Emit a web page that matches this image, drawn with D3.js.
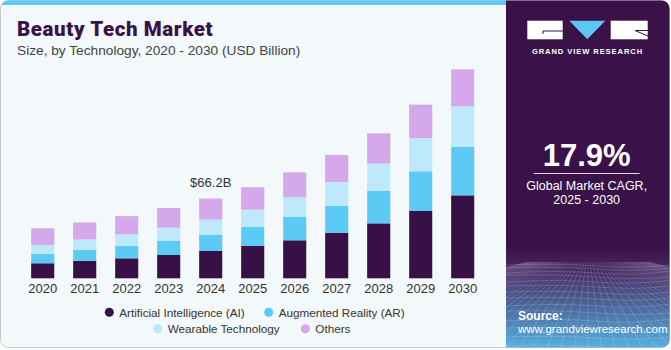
<!DOCTYPE html>
<html><head><meta charset="utf-8">
<script src="https://cdn.jsdelivr.net/npm/d3@7"></script>
<style>html,body{margin:0;padding:0;background:#fff;}svg{display:block;}</style>
</head><body>
<svg id="c" width="671" height="350"></svg>
<script>
const years = ["2020","2021","2022","2023","2024","2025","2026","2027","2028","2029","2030"];
const seriesNames = ["Artificial Intelligence (AI)","Augmented Reality (AR)","Wearable Technology","Others"];
const aiValues = [12.5,14.6,16.6,19.4,22.7,26.9,31.6,37.9,45.7,56.0,69.0];
const arValues = [7.7,9.1,10.2,11.9,13.6,16.1,19.4,22.5,26.9,33.0,40.2];
const wearableValues = [7.5,8.6,9.7,10.8,12.5,14.1,16.6,19.7,22.7,27.7,33.8];
const othersValues = [13.9,14.1,15.2,16.4,17.5,18.6,20.5,22.5,25.3,27.7,30.8];
const colors = ["#371146","#5bcbf5","#bde9fa","#d4a8eb"];
const annotation = {year:"2024", text:"$66.2B"};
const cagrText = "17.9%";
const cagrLabel = ["Global Market CAGR,","2025 - 2030"];

const svg = d3.select("#c");
const W = 671, H = 350, panelX = 506;
const defs = svg.append("defs");
const g1 = defs.append("linearGradient").attr("id","pg").attr("x1",0).attr("y1",0).attr("x2",0).attr("y2",1);
g1.append("stop").attr("offset","0").attr("stop-color","#3a1149");
g1.append("stop").attr("offset","0.70").attr("stop-color","#3a1149");
g1.append("stop").attr("offset","0.77").attr("stop-color","#44285f");
g1.append("stop").attr("offset","1").attr("stop-color","#58b3e4");
defs.append("clipPath").attr("id","cardclip").append("rect")
  .attr("x",0.5).attr("y",0.5).attr("width",669).attr("height",347).attr("rx",8);
defs.append("clipPath").attr("id","gridclip").append("rect")
  .attr("x",panelX).attr("y",262).attr("width",W-panelX).attr("height",90);

// card
svg.append("rect").attr("x",0.5).attr("y",0.5).attr("width",669).attr("height",347).attr("rx",8)
  .attr("fill","#f3f8fb").attr("stroke","#c9c9c9");
const card = svg.append("g").attr("clip-path","url(#cardclip)");
card.append("rect").attr("x",0).attr("y",0).attr("width",panelX).attr("height",5).attr("fill","#5bc8f2");
card.append("rect").attr("x",panelX).attr("y",0).attr("width",W-panelX).attr("height",H).attr("fill","url(#pg)");

// grid decoration
const grid = card.append("g").attr("clip-path","url(#gridclip)").attr("stroke","#ffffff").attr("stroke-opacity",0.22).attr("stroke-width",0.7).attr("fill","none");
const vpX = 588;
d3.range(-30, 31).forEach(i => {
  const bx = vpX + i*14;
  grid.append("line").attr("x1",vpX + i*2).attr("y1",262).attr("x2",bx).attr("y2",350);
});
[265,268,272,276,281,286,292,298,305,312,320,328,337,346].forEach(y => {
  const wob = (y%3)-1;
  grid.append("path").attr("d",`M${panelX},${y+wob} Q${panelX+50},${y-2} ${panelX+90},${y+1} T${W},${y-wob}`);
});

// title
svg.append("text").attr("x",17).attr("y",36).text("Beauty Tech Market")
  .attr("font-family","Roboto, 'Liberation Sans', sans-serif").attr("font-weight",900)
  .attr("font-size",20.5).attr("letter-spacing",0.6).attr("fill","#3a1149");
svg.append("text").attr("x",17).attr("y",55).text("Size, by Technology, 2020 - 2030 (USD Billion)")
  .attr("font-family","'Liberation Sans', Arial, sans-serif").attr("font-size",13.7).attr("fill","#444");

// scales
const x = d3.scaleBand().domain(years).range([21.7,483.7]).paddingInner(0.45).paddingOuter(0.225);
const y = d3.scaleLinear().domain([0,200]).range([278.3, 278.3-1.2024*200]);

const table = years.map((yr,i)=>({year:yr, ai:aiValues[i], ar:arValues[i], wt:wearableValues[i], ot:othersValues[i]}));
const keys = ["ai","ar","wt","ot"];
const stack = d3.stack().keys(keys)(table);

svg.append("g").selectAll("g").data(stack).join("g").attr("fill",(d,i)=>colors[i])
  .selectAll("rect").data(d=>d).join("rect")
  .attr("x",d=>x(d.data.year)).attr("width",x.bandwidth())
  .attr("y",d=>y(d[1])).attr("height",d=>y(d[0])-y(d[1]));

// x axis
const xa = svg.append("g").attr("transform",`translate(0,${278.3})`)
  .call(d3.axisBottom(x).tickSize(0).tickPadding(5));
xa.select(".domain").remove();
xa.selectAll("text").attr("font-family","'Liberation Sans', Arial, sans-serif").attr("font-size",13).attr("fill","#333");

// annotation
const tot = table.find(d=>d.year===annotation.year);
svg.append("text").attr("x",x(annotation.year)+x.bandwidth()/2).attr("y",y(tot.ai+tot.ar+tot.wt+tot.ot)-11.5)
  .attr("text-anchor","middle").text(annotation.text)
  .attr("font-family","'Liberation Sans', Arial, sans-serif").attr("font-size",13).attr("fill","#333");

// legend
const legendPos = [[109.3,312.3],[268.7,312.3],[157.7,328.7],[305.3,328.7]];
const lg = svg.append("g");
seriesNames.forEach((n,i)=>{
  lg.append("circle").attr("cx",legendPos[i][0]).attr("cy",legendPos[i][1]).attr("r",4.5).attr("fill",colors[i]);
  lg.append("text").attr("x",legendPos[i][0]+10).attr("y",legendPos[i][1]+4.3).text(n)
    .attr("font-family","'Liberation Sans', Arial, sans-serif").attr("font-size",11.7).attr("fill","#333");
});

// logo
const lo = svg.append("g");
lo.append("rect").attr("x",527.3).attr("y",20.7).attr("width",35.4).attr("height",18.6).attr("fill","#fff");
lo.append("path").attr("d","M543,31 H563 M543,31 V34").attr("stroke","#3a1149").attr("stroke-width",1);
lo.append("path").attr("d","M569.3,20.7 L605.3,20.7 L587.3,39.3 Z").attr("fill","#5bc8f2");
lo.append("rect").attr("x",610.7).attr("y",20.7).attr("width",37).attr("height",18.6).attr("fill","#fff");
lo.append("path").attr("d","M635,30.5 H648 M635,30.5 L648,36").attr("stroke","#3a1149").attr("stroke-width",1);
lo.append("text").attr("x",587.5).attr("y",54).attr("text-anchor","middle").text("GRAND VIEW RESEARCH")
  .attr("font-family","'Liberation Sans', Arial, sans-serif").attr("font-weight","bold").attr("font-size",7.6)
  .attr("letter-spacing",0.9).attr("fill","#fff");

// CAGR
svg.append("text").attr("x",586.7).attr("y",165.7).attr("text-anchor","middle").text(cagrText)
  .attr("font-family","'Liberation Sans', Arial, sans-serif").attr("font-weight","bold").attr("font-size",31).attr("fill","#fff");
svg.append("line").attr("x1",533.7).attr("x2",639.7).attr("y1",173.5).attr("y2",173.5).attr("stroke","#ddd").attr("stroke-width",1);
cagrLabel.forEach((t,i)=>{
  svg.append("text").attr("x",586.7).attr("y",190+i*14).attr("text-anchor","middle").text(t)
    .attr("font-family","'Liberation Sans', Arial, sans-serif").attr("font-size",12.5).attr("fill","#fff");
});

// source
svg.append("text").attr("x",518).attr("y",320).text("Source:")
  .attr("font-family","'Liberation Sans', Arial, sans-serif").attr("font-weight","bold").attr("font-size",12).attr("fill","#fff");
svg.append("text").attr("x",518).attr("y",332.5).text("www.grandviewresearch.com")
  .attr("font-family","'Liberation Sans', Arial, sans-serif").attr("font-size",11.5).attr("fill","#fff");
</script>
</body></html>
